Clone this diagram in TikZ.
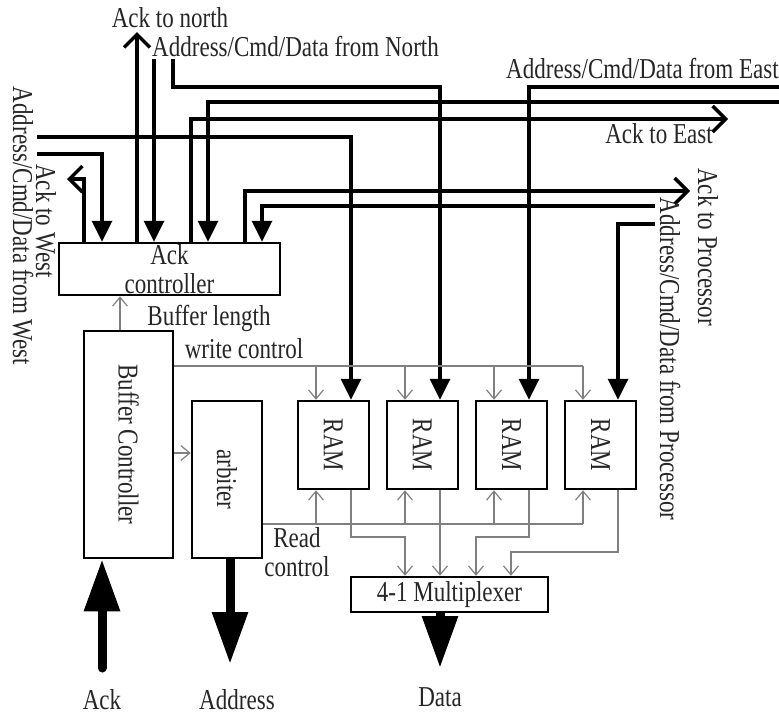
\documentclass[tikz,border=0pt]{standalone}
\usepackage{fontspec}
\setmainfont[FakeStretch=0.8]{Liberation Serif}
\usetikzlibrary{arrows.meta,calc}
\begin{document}
\begin{tikzpicture}[x=1pt,y=-1pt,
  txt/.style={font=\fontsize{28.8}{28.5}\selectfont, text=black!85, inner sep=0pt},
  box/.style={draw, line width=2.5pt, inner sep=0pt, font=\fontsize{28.8}{28.5}\selectfont, text=black!85},
  bus/.style={line width=3.5pt},
  ctrl/.style={line width=1.2pt, draw=black!50},
  fin/.style={-{Triangle[length=21pt,width=20pt]}},
  fout/.style={-{Straight Barb[length=13pt,width=26pt]}},
  cin/.style={-{Straight Barb[length=9pt,width=15pt]}},
  big/.style={line width=9pt, -{Triangle[length=52pt,width=34pt]}},
]
\useasboundingbox (0,0) rectangle (779,716);

% boxes
\node[box, minimum width=221pt, minimum height=52pt, align=center] (ackc) at (169.5,269) {Ack\\controller};
\node[box, minimum width=89pt, minimum height=227pt] (bufc) at (128.5,444.5) {\rotatebox{-90}{Buffer Controller}};
\node[box, minimum width=70pt, minimum height=157pt] (arb) at (227,479.5) {\rotatebox{-90}{arbiter}};
\foreach \i in {1,...,4}{
  \node[box, minimum width=71pt, minimum height=88pt] (ram\i) at ({333.5+89*(\i-1)},445) {\rotatebox{-90}{RAM}};
}
\node[box, minimum width=197pt, minimum height=35pt] (mux) at (449.5,594.5) {4-1 Multiplexer};

\foreach \i in {1,...,4}{
  \coordinate (wc\i) at ([xshift=-17.5pt]ram\i.north);
  \coordinate (rc\i) at ([xshift=-17.5pt]ram\i.south);
  \coordinate (din\i) at ([xshift=17.5pt]ram\i.north);
  \coordinate (dout\i) at ([xshift=17.5pt]ram\i.south);
}

% West
\coordinate (ackW) at (67,179);
\draw[bus,fout] (84,0 |- ackc.north) |- (ackW);
\coordinate (inW2) at (37,154);
\draw[bus,fin] (inW2) -| (102,0 |- ackc.north);
\coordinate (inW1) at (37,137);
\draw[bus,fin] (inW1) -| (din1);

% North
\coordinate (ackN) at (137,32);
\draw[bus,fout] (137,0 |- ackc.north) -- (ackN);
\coordinate (inN2) at (154,59);
\draw[bus,fin] (inN2) -- (154,0 |- ackc.north);
\coordinate (inN1) at (173,59);
\draw[bus,fin] (inN1) -- (173,87) -| (din2);

% East
\coordinate (inE1) at (779,87);
\draw[bus,fin] (inE1) -| (din3);
\coordinate (inE2) at (779,102);
\draw[bus,fin] (inE2) -| (208,0 |- ackc.north);
\coordinate (ackE) at (728,119);
\draw[bus,fout] (191,0 |- ackc.north) |- (ackE);

% Processor
\coordinate (ackP) at (690,191);
\draw[bus,fout] (245,0 |- ackc.north) |- (ackP);
\coordinate (inP2) at (655,206);
\draw[bus,fin] (inP2) -| (262,0 |- ackc.north);
\coordinate (inP1) at (655,224);
\draw[bus,fin] (inP1) -| (din4);

% control
\draw[ctrl,cin] (120,0 |- bufc.north) -- (120,0 |- ackc.south);
\draw[ctrl,cin] (bufc.east |- 0,453) -- (arb.west |- 0,453);
\draw[ctrl] (bufc.east |- 0,366) -- (wc4 |- 0,366);
\draw[ctrl] (arb.east |- 0,524) -- (rc4 |- 0,524);
\foreach \i in {1,...,4}{
  \draw[ctrl,cin] (wc\i |- 0,366) -- (wc\i);
  \draw[ctrl,cin] (rc\i |- 0,524) -- (rc\i);
}
\draw[ctrl,cin] (dout1) -- (dout1 |- 0,537) -- (405,537) -- (405,0 |- mux.north);
\draw[ctrl,cin] (dout2) -- (dout2 |- mux.north);
\draw[ctrl,cin] (dout3) -- (dout3 |- 0,537) -- (476,537) -- (476,0 |- mux.north);
\draw[ctrl,cin] (dout4) -- (dout4 |- 0,552) -- (511,552) -- (511,0 |- mux.north);

% big arrows
\coordinate (inAck) at (102,668);
\draw[big, line cap=round] (inAck) -- (102,0 |- bufc.south);
\coordinate (outAddr) at (230,664);
\draw[big] (230,0 |- arb.south) -- (outAddr);
\coordinate (outData) at (440,668);
\draw[big] (440,0 |- mux.south) -- (outData);

% labels
\node[txt] (lAckN) at (170,18) {Ack to north};
\node[txt, anchor=west] (lN) at (152,46) {Address/Cmd/Data from North};
\node[txt, anchor=west] (lE) at (506,68) {Address/Cmd/Data from East};
\node[txt, anchor=east] (lAckE) at (713,134) {Ack to East};
\node[txt, rotate=-90] (lW) at (23,226) {Address/Cmd/Data from West};
\node[txt, rotate=-90] (lAckW) at (46,221) {Ack to West};
\node[txt, rotate=-90] (lP) at (670,359) {Address/Cmd/Data from Processor};
\node[txt, rotate=-90] (lAckP) at (708,247) {Ack to Processor};
\node[txt] (lBL) at (209,318) {Buffer length};
\node[txt] (lWC) at (244,349) {write control};
\node[txt, align=center] (lRC) at (297,552) {Read\\control};
\node[txt] (lAck) at (102,700) {Ack};
\node[txt] (lAddr) at (237,700) {Address};
\node[txt] (lData) at (440,697) {Data};
\end{tikzpicture}
\end{document}
